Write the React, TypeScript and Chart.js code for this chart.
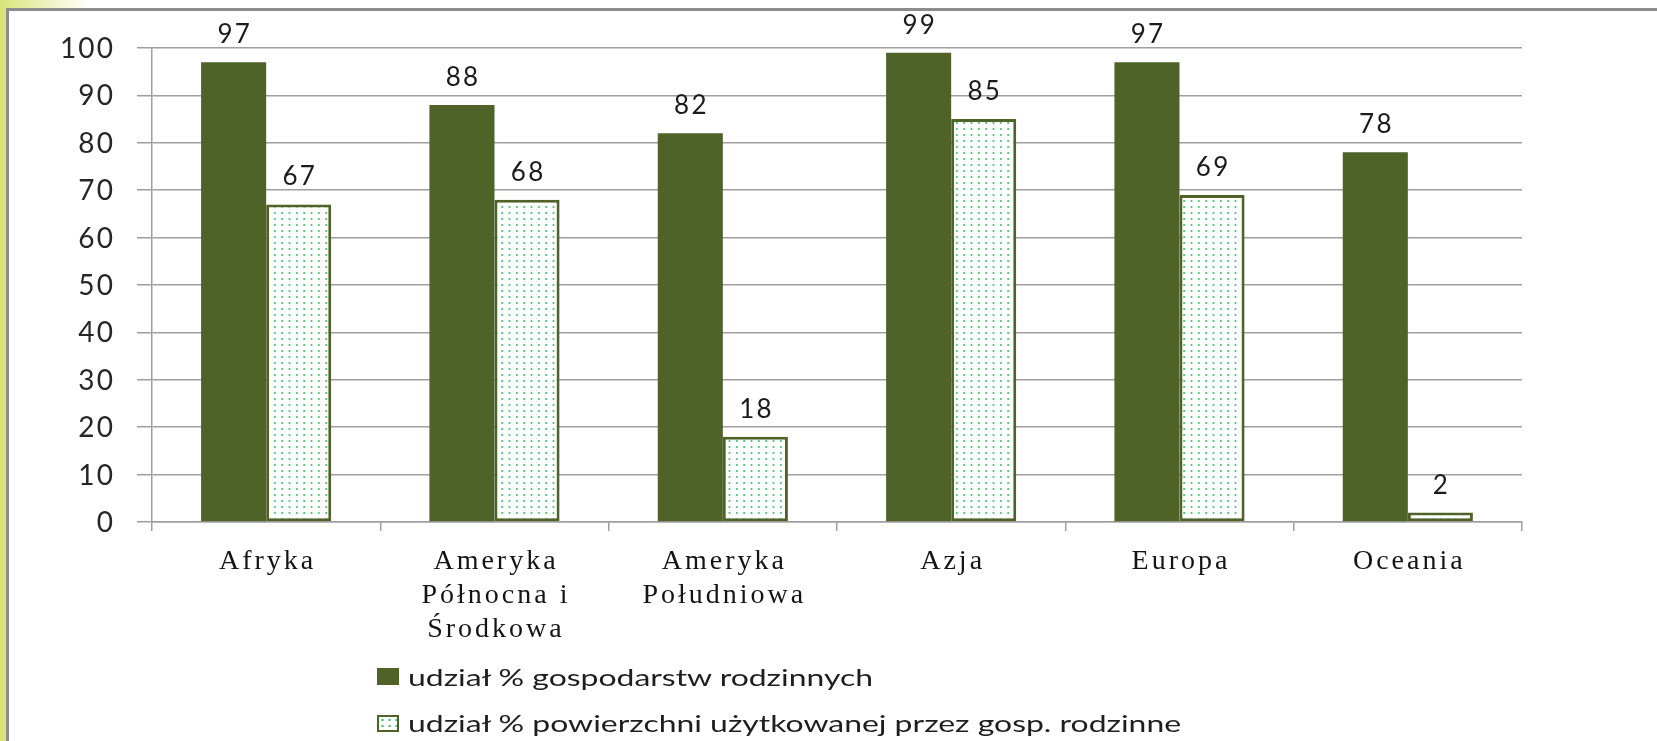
import React, { useEffect, useRef, useState } from 'react';
import { Chart, registerables } from 'chart.js';

Chart.register(...registerables);

const categories: (string | string[])[] = [
  'Afryka',
  ['Ameryka', 'Północna i', 'Środkowa'],
  ['Ameryka', 'Południowa'],
  'Azja',
  'Europa',
  'Oceania',
];
const seriesNames = [
  'udział % gospodarstw rodzinnych',
  'udział % powierzchni użytkowanej przez gosp. rodzinne',
];
const farmsShare = [97, 88, 82, 99, 97, 78];
const areaShare = [67, 68, 18, 85, 69, 2];
const yMin = 0;
const yMax = 100;
const yStep = 10;

const DARK = '#4f6228';
const GRID = '#9f9f9f';
const DOT = '#44c371';
const SERIF = '"Liberation Serif", "Times New Roman", Tinos, "DejaVu Serif", serif';

function makeDotPattern(ctx: CanvasRenderingContext2D): CanvasPattern | string {
  const c = document.createElement('canvas');
  c.width = 22;
  c.height = 18;
  const g = c.getContext('2d');
  if (!g) return '#ffffff';
  g.fillStyle = '#ffffff';
  g.fillRect(0, 0, 22, 18);
  g.fillStyle = DOT;
  for (let i = 0; i < 3; i++) {
    for (let j = 0; j < 3; j++) {
      g.beginPath();
      g.arc(3.5 + (i * 22) / 3, 3 + j * 6, 1.1, 0, Math.PI * 2);
      g.fill();
    }
  }
  return ctx.createPattern(c, 'repeat') || '#ffffff';
}

// draws text with extra spacing between characters
function drawSpaced(
  ctx: CanvasRenderingContext2D,
  text: string,
  x: number,
  y: number,
  spacing: number,
  align: 'left' | 'center' | 'right'
) {
  const chars = Array.from(text);
  const widths = chars.map((c) => ctx.measureText(c).width);
  const total = widths.reduce((a, b) => a + b, 0) + spacing * (chars.length - 1);
  let cx = align === 'left' ? x : align === 'center' ? x - total / 2 : x - total;
  ctx.textAlign = 'left';
  chars.forEach((c, i) => {
    ctx.fillText(c, cx, y);
    cx += widths[i] + spacing;
  });
}

const textPlugin = {
  id: 'textPlugin',
  afterDraw(chart: any) {
    const ctx = chart.ctx as CanvasRenderingContext2D;
    const ys = chart.scales.y;

    ctx.save();
    ctx.font = '28px Lato';
    ctx.fillStyle = '#262626';
    ctx.textBaseline = 'middle';
    ys.ticks.forEach((t: any) => {
      drawSpaced(ctx, String(t.label), 113, ys.getPixelForValue(t.value) + 1, 2.2, 'right');
    });
    ctx.restore();

    ctx.save();
    ctx.font = '26px Lato';
    ctx.fillStyle = '#1c1c1c';
    ctx.textBaseline = 'alphabetic';
    chart.data.datasets.forEach((ds: any, di: number) => {
      const meta = chart.getDatasetMeta(di);
      meta.data.forEach((el: any, i: number) => {
        drawSpaced(ctx, String(ds.data[i]), el.x, el.y - 19, 2.2, 'center');
      });
    });
    ctx.restore();
  },
};

export default function App() {
  const ref = useRef<HTMLCanvasElement>(null);
  const [labelPos, setLabelPos] = useState<{ xs: number[]; top: number } | null>(null);

  useEffect(() => {
    const canvas = ref.current;
    if (!canvas) return;
    const ctx = canvas.getContext('2d') as CanvasRenderingContext2D;
    const pattern = makeDotPattern(ctx);
    const chart = new Chart(canvas, {
      type: 'bar',
      data: {
        labels: categories,
        datasets: [
          {
            label: seriesNames[0],
            data: farmsShare,
            backgroundColor: DARK,
            borderWidth: 0,
            categoryPercentage: 0.57,
            barPercentage: 1,
          },
          {
            label: seriesNames[1],
            data: areaShare,
            backgroundColor: pattern as any,
            borderColor: DARK,
            borderWidth: 3,
            borderSkipped: false,
            categoryPercentage: 0.57,
            barPercentage: 1,
          },
        ],
      },
      options: {
        animation: false,
        responsive: false,
        maintainAspectRatio: false,
        devicePixelRatio: 1,
        layout: { padding: { top: 48, right: 135, bottom: 0, left: 0 } },
        plugins: {
          legend: { display: false },
          tooltip: { enabled: false },
        },
        scales: {
          x: {
            afterFit: (s: any) => {
              s.height = 219;
            },
            grid: {
              drawOnChartArea: false,
              drawTicks: true,
              tickLength: 9,
              color: GRID,
              lineWidth: 1.5,
              offset: true,
            },
            border: { display: true, color: GRID, width: 1.5 },
            ticks: {
              display: false,
              autoSkip: false,
              maxRotation: 0,
              minRotation: 0,
            },
          },
          y: {
            min: yMin,
            max: yMax,
            afterFit: (s: any) => {
              s.width = 152;
            },
            grid: {
              color: GRID,
              lineWidth: 1.5,
              tickLength: 15,
              drawTicks: true,
            },
            border: { display: true, color: GRID, width: 1.5 },
            ticks: {
              display: false,
              stepSize: yStep,
            },
          },
        },
      },
      plugins: [textPlugin],
    });
    const xs = chart.scales.x as any;
    setLabelPos({
      xs: categories.map((_, i) => xs.getPixelForValue(i)),
      top: xs.top,
    });
    return () => chart.destroy();
  }, []);

  const legendText: React.CSSProperties = {
    position: 'absolute',
    left: 408,
    fontFamily: 'Lato',
    fontSize: 24,
    lineHeight: '24px',
    color: '#1e1e1e',
    whiteSpace: 'nowrap',
    transform: 'scaleX(1.33)',
    transformOrigin: '0 0',
  };

  return (
    <div
      style={{
        position: 'absolute',
        left: 0,
        top: 0,
        width: 1657,
        height: 741,
        overflow: 'hidden',
        background: '#ffffff',
      }}
    >
      <div style={{ position: 'absolute', left: 0, top: 0, width: 6, height: 741, background: '#d8e47a' }} />
      <div
        style={{
          position: 'absolute',
          left: 0,
          top: 0,
          width: 90,
          height: 8,
          background: 'linear-gradient(to right, #d8e47a, #ffffff)',
        }}
      />
      <div
        style={{
          position: 'absolute',
          left: 6,
          top: 8,
          width: 1700,
          height: 800,
          borderLeft: '3px solid #8c8c8c',
          borderTop: '3px solid #8c8c8c',
        }}
      />
      <canvas
        ref={ref}
        width={1657}
        height={741}
        style={{ position: 'absolute', left: 0, top: 0, width: 1657, height: 741 }}
      />
      {labelPos &&
        categories.map((lab, i) => {
          const lines = Array.isArray(lab) ? lab : [lab];
          return (
            <div
              key={i}
              style={{
                position: 'absolute',
                left: labelPos.xs[i] - 150,
                top: labelPos.top + 20.5,
                width: 300,
                textAlign: 'center',
                fontFamily: SERIF,
                fontSize: 28,
                lineHeight: '34px',
                letterSpacing: '3px',
                paddingLeft: 3,
                boxSizing: 'border-box',
                color: '#141414',
              }}
            >
              {lines.map((ln, k) => (
                <div key={k}>{ln}</div>
              ))}
            </div>
          );
        })}
      <div
        style={{
          position: 'absolute',
          left: 377,
          top: 668,
          width: 22,
          height: 17,
          background: DARK,
        }}
      />
      <div style={{ ...legendText, top: 665 }}>{seriesNames[0]}</div>
      <div
        style={{
          position: 'absolute',
          left: 377,
          top: 715,
          width: 18,
          height: 13,
          border: `2px solid ${DARK}`,
          backgroundColor: '#ffffff',
          backgroundImage: `radial-gradient(circle, ${DOT} 1px, transparent 1.3px)`,
          backgroundSize: '7px 6px',
        }}
      />
      <div style={{ ...legendText, top: 711 }}>{seriesNames[1]}</div>
    </div>
  );
}
